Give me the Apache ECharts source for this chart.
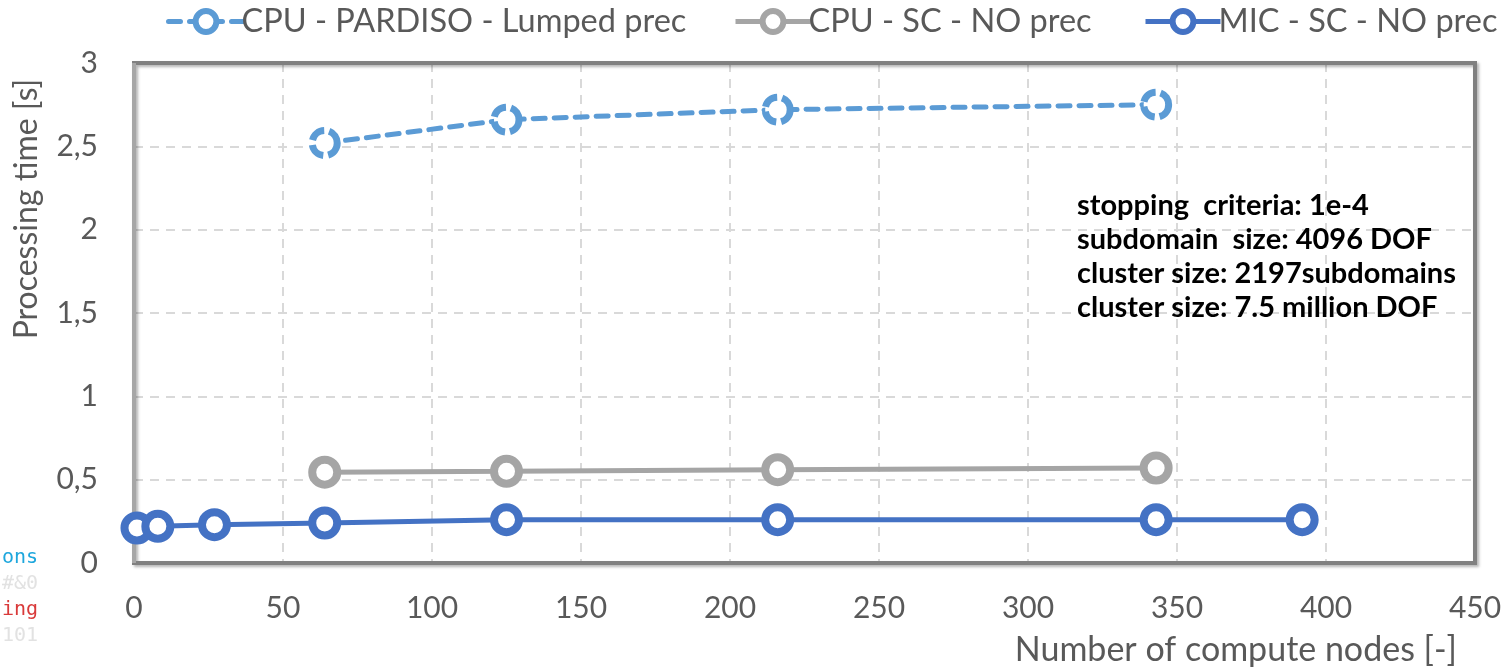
<!DOCTYPE html>
<html>
<head>
<meta charset="utf-8">
<script src="https://cdn.jsdelivr.net/npm/echarts@6/dist/echarts.min.js"></script>
<style>html,body{margin:0;padding:0;background:#fff;}#c{width:1512px;height:668px;}</style>
</head>
<body>
<div id="c"></div>
<script>
const seriesNames = ['CPU - PARDISO - Lumped prec', 'CPU - SC - NO prec', 'MIC - SC - NO prec'];
const pardisoX = [64, 125, 216, 343];
const pardisoY = [2.52, 2.66, 2.72, 2.75];
const scX = [64, 125, 216, 343];
const scY = [0.545, 0.55, 0.56, 0.57];
const micX = [1, 8, 27, 64, 125, 216, 343, 392];
const micY = [0.21, 0.22, 0.23, 0.24, 0.26, 0.26, 0.26, 0.26];
const annotationLines = ['stopping  criteria: 1e-4', 'subdomain  size: 4096 DOF', 'cluster size: 2197subdomains', 'cluster size: 7.5 million DOF'];
const xAxisTitle = 'Number of compute nodes [-]';
const yAxisTitle = 'Processing time [s]';
const artifactTexts = [['ons', '#1ea7dd'], ['#&0', '#e2e2e2'], ['ing', '#d93a3a'], ['101', '#e2e2e2']];

const FONT = 'Lato';
const zip = (xs, ys) => xs.map((x, i) => [x, ys[i]]);

const G = { left: 134, top: 63, right: 37, bottom: 105 };
const W = 1512, H = 668;

const chart = echarts.init(document.getElementById('c'));
const legendBase = {
  top: 0, itemWidth: 75, itemHeight: 26, itemGap: 0,
  lineStyle: { width: 5 },
  itemStyle: { borderWidth: 6 },
  textStyle: { fontFamily: FONT, fontSize: 32.5, color: '#595959', padding: [0, 0, 0, -7] }
};
const graphics = [];
graphics.push({ type: 'rect', z: 1, silent: true,
  shape: { x: G.left, y: G.top, width: W - G.left - G.right, height: H - G.top - G.bottom },
  style: { fill: 'none', stroke: '#808080', lineWidth: 4,
    shadowColor: 'rgba(0,0,0,0.3)', shadowBlur: 3, shadowOffsetX: 2, shadowOffsetY: 2 } });
graphics.push({ type: 'line', z: 1, silent: true,
  shape: { x1: G.left, y1: G.top, x2: G.left, y2: H - G.bottom },
  style: { stroke: '#a6a6a6', lineWidth: 4 } });
annotationLines.forEach((t, i) => {
  graphics.push({ type: 'text', left: 1077, top: 191 + i * 34, z: 10,
    style: { text: t, font: 'bold 29px ' + FONT, fill: '#000' } });
});
graphics.push({ type: 'text', right: 55, top: 633, style: { text: xAxisTitle, font: '34px ' + FONT, fill: '#595959' } });
graphics.push({ type: 'text', x: 27, y: 209, rotation: Math.PI / 2,
  style: { text: yAxisTitle, font: '32px ' + FONT, fill: '#595959', align: 'center', verticalAlign: 'middle' } });
artifactTexts.forEach((a, i) => {
  graphics.push({ type: 'text', x: 38, y: 558 + i * 26,
    style: { text: a[0], font: '20px "DejaVu Sans Mono"', fill: a[1], align: 'right', verticalAlign: 'middle' } });
});

chart.setOption({
  animation: false,
  backgroundColor: '#fff',
  grid: { left: G.left, right: G.right, top: G.top, bottom: G.bottom, show: false },
  legend: [
    Object.assign({}, legendBase, { left: 161, data: [seriesNames[0]] }),
    Object.assign({}, legendBase, { left: 728, data: [seriesNames[1]] }),
    Object.assign({}, legendBase, { left: 1138, data: [seriesNames[2]] })
  ],
  xAxis: {
    type: 'value', min: 0, max: 450, interval: 50,
    axisLine: { show: false }, axisTick: { show: false },
    axisLabel: { fontFamily: FONT, fontSize: 30, color: '#595959', margin: 30 },
    splitLine: { show: true, lineStyle: { color: '#d9d9d9', width: 2, type: [9, 7] } }
  },
  yAxis: {
    type: 'value', min: 0, max: 3, interval: 0.5,
    axisLine: { show: false }, axisTick: { show: false },
    axisLabel: { fontFamily: FONT, fontSize: 30, color: '#595959', margin: 36,
      formatter: v => String(v).replace('.', ',') },
    splitLine: { show: true, lineStyle: { color: '#d9d9d9', width: 2, type: [9, 7] } }
  },
  graphic: graphics,
  series: [
    { name: seriesNames[0], type: 'line', data: zip(pardisoX, pardisoY), symbol: 'circle', symbolSize: 25,
      lineStyle: { color: '#5b9bd5', width: 5, type: [12, 9], cap: 'round' },
      itemStyle: { color: '#fff', borderColor: '#5b9bd5', borderWidth: 7, borderType: [16, 5] }, z: 2 },
    { name: seriesNames[1], type: 'line', data: zip(scX, scY), symbol: 'circle', symbolSize: 25,
      lineStyle: { color: '#a5a5a5', width: 5 },
      itemStyle: { color: '#fff', borderColor: '#a5a5a5', borderWidth: 8 }, z: 3 },
    { name: seriesNames[2], type: 'line', data: zip(micX, micY), symbol: 'circle', symbolSize: 25,
      lineStyle: { color: '#4472c4', width: 5 },
      itemStyle: { color: '#fff', borderColor: '#4472c4', borderWidth: 8 }, z: 4 }
  ]
});
</script>
</body>
</html>
